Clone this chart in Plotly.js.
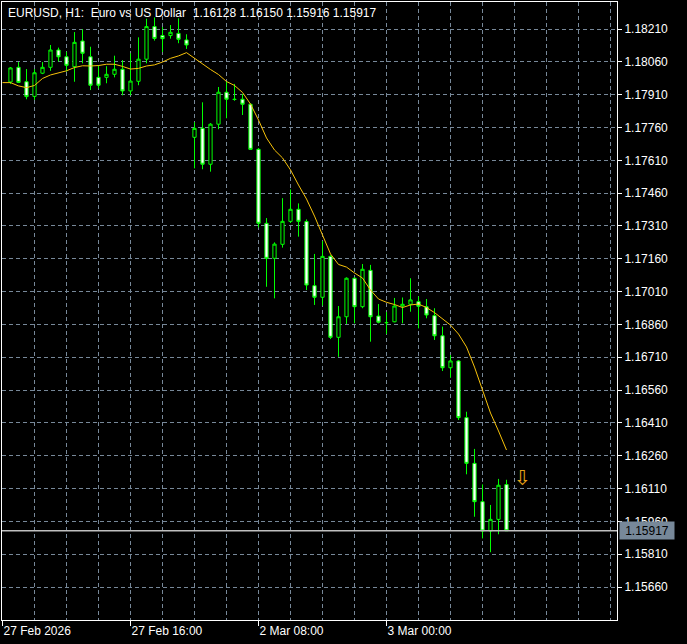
<!DOCTYPE html>
<html>
<head>
<meta charset="utf-8">
<script src="https://cdn.plot.ly/plotly-3.0.1.min.js"></script>
<style>html,body{margin:0;padding:0;background:#000;}#chart{width:687px;height:644px;}</style>
</head>
<body>
<div id="chart"></div>
<script>
// EURUSD H1 candles, 27 Feb 2026 01:00 .. 3 Mar 2026 15:00 (bar index 1..63)
const openP = [
1.17968, 1.18035, 1.17969, 1.17902, 1.18008, 1.18035, 1.18114, 1.18083, 1.18038, 1.18155,
1.18083, 1.17989, 1.17989, 1.18003, 1.18026, 1.17927, 1.17971, 1.18072, 1.18221, 1.18180,
1.18180, 1.18190, 1.18160, 1.17715, 1.17756, 1.17592, 1.17775, 1.17921, 1.17889, 1.17889,
1.17866, 1.17660, 1.17322, 1.17162, 1.17226, 1.17331, 1.17386, 1.17330, 1.17037, 1.16984,
1.17171, 1.16801, 1.16895, 1.17071, 1.16941, 1.17107, 1.16898, 1.16868, 1.16872, 1.16944,
1.16952, 1.16964, 1.16941, 1.16900, 1.16808, 1.16662, 1.16693, 1.16434, 1.16225, 1.16050,
1.15916, 1.15969, 1.16128];
const highP = [
1.18036, 1.18059, 1.18027, 1.18027, 1.18059, 1.18137, 1.18125, 1.18106, 1.18196, 1.18209,
1.18129, 1.18042, 1.18040, 1.18088, 1.18068, 1.18099, 1.18172, 1.18257, 1.18263, 1.18219,
1.18228, 1.18259, 1.18186, 1.17784, 1.17875, 1.17780, 1.17945, 1.17972, 1.17959, 1.17913,
1.17870, 1.17666, 1.17346, 1.17235, 1.17437, 1.17477, 1.17413, 1.17340, 1.17182, 1.17241,
1.17176, 1.16944, 1.17075, 1.17075, 1.17136, 1.17132, 1.16953, 1.16917, 1.16981, 1.16983,
1.17071, 1.16988, 1.16976, 1.16934, 1.16850, 1.16720, 1.16697, 1.16461, 1.16291, 1.16129,
1.16035, 1.16154, 1.16150];
const lowP = [
1.17959, 1.17963, 1.17889, 1.17886, 1.18004, 1.18019, 1.18061, 1.18015, 1.17969, 1.18053,
1.17931, 1.17939, 1.17962, 1.17989, 1.17907, 1.17907, 1.17953, 1.18053, 1.18157, 1.18105,
1.18166, 1.18145, 1.18119, 1.17573, 1.17569, 1.17558, 1.17752, 1.17802, 1.17882, 1.17817,
1.17657, 1.17303, 1.17032, 1.16979, 1.17211, 1.17324, 1.17261, 1.17017, 1.16949, 1.16946,
1.16793, 1.16712, 1.16862, 1.16865, 1.16934, 1.16781, 1.16865, 1.16816, 1.16870, 1.16865,
1.16918, 1.16842, 1.16888, 1.16789, 1.16647, 1.16616, 1.16423, 1.16175, 1.15981, 1.15882,
1.15819, 1.15901, 1.15916];
const closeP = [
1.18032, 1.17966, 1.17901, 1.18010, 1.18035, 1.18114, 1.18083, 1.18044, 1.18149, 1.18099,
1.17953, 1.17953, 1.18003, 1.18026, 1.17927, 1.17972, 1.18072, 1.18221, 1.18167, 1.18166,
1.18195, 1.18163, 1.18137, 1.17756, 1.17592, 1.17775, 1.17921, 1.17889, 1.17888, 1.17866,
1.17660, 1.17322, 1.17162, 1.17227, 1.17331, 1.17386, 1.17331, 1.17040, 1.16984, 1.17171,
1.16801, 1.16895, 1.17071, 1.16941, 1.17112, 1.16895, 1.16870, 1.16868, 1.16944, 1.16952,
1.16972, 1.16943, 1.16903, 1.16808, 1.16662, 1.16693, 1.16434, 1.16225, 1.16050, 1.15916,
1.15969, 1.16125, 1.15917];
// moving average, bar index 0..63
const maP = [
1.17965, 1.17965, 1.17950, 1.17942, 1.17952, 1.17984, 1.18000, 1.18010, 1.18019, 1.18034,
1.18042, 1.18041, 1.18043, 1.18049, 1.18049, 1.18039, 1.18027, 1.18030, 1.18041, 1.18046,
1.18059, 1.18076, 1.18087, 1.18102, 1.18075, 1.18048, 1.18025, 1.18002, 1.17970, 1.17952,
1.17920, 1.17867, 1.17794, 1.17712, 1.17657, 1.17621, 1.17566, 1.17497, 1.17433, 1.17355,
1.17269, 1.17182, 1.17134, 1.17122, 1.17095, 1.17072, 1.17017, 1.16976, 1.16961, 1.16951,
1.16937, 1.16949, 1.16953, 1.16937, 1.16914, 1.16887, 1.16857, 1.16816, 1.16757, 1.16665,
1.16560, 1.16455, 1.16373, 1.16286];
// sell signal arrow
const signalBar = [65];
const signalPrice = [1.16150];
// time axis labels
const timeTickBars = [0, 16, 32, 48];
const timeTickText = ['27 Feb 2026', '27 Feb 16:00', '2 Mar 08:00', '3 Mar 00:00'];
// price axis labels
const priceTicks = [1.15660, 1.15810, 1.15960, 1.16110, 1.16260, 1.16410, 1.16560, 1.16710,
  1.16860, 1.17010, 1.17160, 1.17310, 1.17460, 1.17610, 1.17760, 1.17910, 1.18060, 1.18210];
const headerText = 'EURUSD, H1:\u00a0 Euro vs US Dollar\u00a0 1.16128 1.16150 1.15916 1.15917';

const candleBars = openP.map((_, k) => k + 1);
const maBars = maP.map((_, k) => k);
const gridBars = [];
for (let b = 4; b <= 76; b += 4) gridBars.push(b);
const lastClose = closeP[closeP.length - 1];

const GRID = '#778899';
const FONT = {family: 'Liberation Sans, Arial, sans-serif', size: 12, color: '#ffffff'};

const traces = [
  {
    type: 'scatter', mode: 'lines', x: maBars, y: maP,
    line: {color: '#f7c20a', width: 1}, hoverinfo: 'skip', showlegend: false
  },
  {
    type: 'candlestick', x: candleBars, open: openP, high: highP, low: lowP, close: closeP,
    increasing: {line: {color: '#00ff00', width: 1}, fillcolor: '#000000'},
    decreasing: {line: {color: '#00ff00', width: 1}, fillcolor: '#ffffff'},
    whiskerwidth: 0, hoverinfo: 'skip', showlegend: false
  },
  {
    type: 'scatter', mode: 'text', x: signalBar, y: signalPrice, text: ['\u21e9'],
    textfont: {family: 'DejaVu Sans', size: 21, color: '#e8a317'},
    textposition: 'middle center', hoverinfo: 'skip', showlegend: false
  }
];

const layout = {
  width: 687, height: 644,
  margin: {l: 2, r: 70, t: 2, b: 24, pad: 0},
  paper_bgcolor: '#000000', plot_bgcolor: '#000000',
  font: FONT,
  showlegend: false,
  boxgap: 0.42,
  xaxis: {
    type: 'linear', range: [-0.0625, 76.8125], fixedrange: true,
    tickmode: 'array', tickvals: timeTickBars, ticktext: timeTickText,
    ticks: 'outside', ticklen: 5, tickcolor: '#ffffff', tickwidth: 1,
    ticklabelposition: 'outside right',
    tickfont: FONT,
    showgrid: true, gridcolor: GRID, griddash: '4px,3px', gridwidth: 1,
    minor: {tickmode: 'array', tickvals: gridBars, showgrid: true, gridcolor: GRID, griddash: '4px,3px', ticks: ''},
    showline: true, linecolor: '#ffffff', linewidth: 1, mirror: true,
    zeroline: false, rangeslider: {visible: false}
  },
  yaxis: {
    side: 'right', range: [1.155092, 1.183334], fixedrange: true,
    tickmode: 'array', tickvals: priceTicks, ticktext: priceTicks.map(v => v.toFixed(5)),
    ticks: 'outside', ticklen: 4, tickcolor: '#ffffff', tickwidth: 1,
    tickfont: FONT,
    showgrid: true, gridcolor: GRID, griddash: '4px,3px', gridwidth: 1,
    showline: true, linecolor: '#ffffff', linewidth: 1, mirror: true,
    zeroline: false
  },
  shapes: [
    {type: 'line', xref: 'paper', x0: 0, x1: 1, yref: 'y', y0: lastClose, y1: lastClose,
     line: {color: '#c0c0c0', width: 1.5}, layer: 'above'}
  ],
  annotations: [
    {xref: 'paper', yref: 'paper', x: 0, y: 1, xanchor: 'left', yanchor: 'top',
     xshift: 4, yshift: -2, showarrow: false, text: headerText, font: FONT},
    {xref: 'paper', yref: 'y', x: 1, y: lastClose, xanchor: 'left', yanchor: 'middle',
     xshift: 2, showarrow: false, text: lastClose.toFixed(5),
     font: {family: FONT.family, size: 12, color: '#000000'},
     bgcolor: '#778899', width: 52, height: 15, borderpad: 1}
  ]
};

Plotly.newPlot('chart', traces, layout, {displayModeBar: false, staticPlot: true});
</script>
</body>
</html>
